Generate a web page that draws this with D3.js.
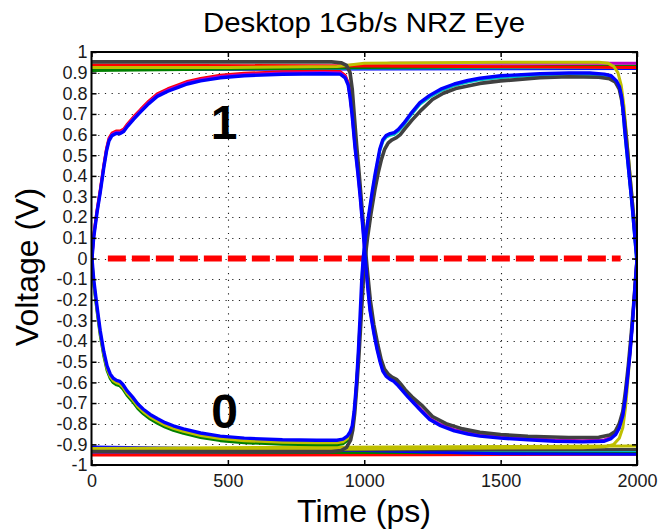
<!DOCTYPE html>
<html>
<head>
<meta charset="utf-8">
<script src="https://cdn.jsdelivr.net/npm/d3@7"></script>
<style>
  body { margin: 0; background: #fff; }
  svg { display: block; }
</style>
</head>
<body>
<svg id="chart" width="661" height="529"></svg>
<script>
// ---- Axis ticks -------------------------------------------------------
const timeTicks = [0, 500, 1000, 1500, 2000];
const voltTicks = [1, 0.9, 0.8, 0.7, 0.6, 0.5, 0.4, 0.3, 0.2, 0.1, 0,
  -0.1, -0.2, -0.3, -0.4, -0.5, -0.6, -0.7, -0.8, -0.9, -1];

// ---- Eye traces: [time (ps), voltage (V)] ------------------------------
// 0 -> 1 at t=0, 1 -> 0 at t=1000, 0 -> 1 at t=2000
const eyeRiseFall = [
  [0,-0.03],[8,0.1],[20,0.22],[32,0.32],[45,0.44],[55,0.52],[64,0.57],[75,0.595],
  [90,0.605],[105,0.605],[118,0.615],[132,0.64],[155,0.675],[180,0.71],[210,0.75],
  [241,0.785],[280,0.81],[320,0.83],[351,0.845],[400,0.86],[472,0.875],[560,0.885],
  [700,0.892],[850,0.895],[912,0.893],[930,0.875],[941,0.84],[948,0.78],[955,0.70],
  [966,0.54],[976,0.42],[985,0.30],[996,0.13],[1003,0.01],[1012,-0.13],[1021,-0.25],
  [1035,-0.36],[1047,-0.44],[1058,-0.50],[1068,-0.545],[1080,-0.57],[1094,-0.585],
  [1108,-0.595],[1120,-0.61],[1140,-0.64],[1160,-0.67],[1178,-0.695],[1210,-0.74],
  [1240,-0.78],[1280,-0.81],[1330,-0.835],[1380,-0.85],[1424,-0.86],[1500,-0.87],
  [1600,-0.878],[1700,-0.885],[1800,-0.888],[1880,-0.885],[1905,-0.872],[1922,-0.852],
  [1935,-0.82],[1948,-0.76],[1957,-0.68],[1966,-0.57],[1975,-0.45],[1983,-0.32],
  [1992,-0.15],[2000,0.0]
];

// 1 -> 0 at t=0, 0 -> 1 at t=1000, 1 -> 0 at t=2000
const eyeFallRise = [
  [0,0.03],[8,-0.1],[20,-0.23],[32,-0.35],[45,-0.45],[57,-0.52],[69,-0.56],[80,-0.58],
  [92,-0.59],[104,-0.595],[115,-0.61],[130,-0.64],[150,-0.67],[170,-0.705],[190,-0.73],
  [215,-0.755],[241,-0.775],[270,-0.795],[300,-0.81],[337,-0.825],[400,-0.845],
  [472,-0.86],[560,-0.87],[700,-0.878],[826,-0.88],[900,-0.88],[922,-0.875],[938,-0.86],
  [948,-0.84],[956,-0.81],[963,-0.74],[968,-0.66],[972,-0.59],[978,-0.46],[984,-0.30],
  [991,-0.10],[996,0.0],[1004,0.1],[1015,0.2],[1030,0.33],[1040,0.41],[1047,0.46],
  [1057,0.53],[1068,0.575],[1080,0.595],[1095,0.605],[1110,0.61],[1125,0.625],
  [1145,0.655],[1170,0.70],[1204,0.755],[1240,0.79],[1280,0.82],[1330,0.845],
  [1380,0.862],[1424,0.873],[1500,0.885],[1644,0.895],[1750,0.898],[1827,0.898],
  [1880,0.893],[1905,0.885],[1925,0.86],[1936,0.83],[1944,0.78],[1950,0.70],
  [1955,0.62],[1964,0.50],[1973,0.38],[1982,0.26],[1991,0.12],[2000,-0.02]
];

// long run of ones, falling at t=1000
const highHoldFall = [
  [0,0.952],[880,0.952],[915,0.948],[935,0.935],[948,0.90],[956,0.82],[963,0.70],
  [972,0.55],[982,0.40],[992,0.24],[1002,0.08],[1010,-0.04],[1022,-0.2],[1035,-0.32],
  [1050,-0.42],[1062,-0.49],[1074,-0.535],[1088,-0.56],[1102,-0.575],[1118,-0.585],
  [1132,-0.605],[1150,-0.635],[1175,-0.67],[1210,-0.71],[1250,-0.765],[1300,-0.80],
  [1360,-0.825],[1424,-0.842],[1500,-0.852],[1600,-0.861],[1750,-0.867],[1860,-0.866],
  [1900,-0.855],[1920,-0.838],[1935,-0.80],[1948,-0.74],[1958,-0.64],[1968,-0.52],
  [1978,-0.38],[1988,-0.22],[1997,-0.06],[2005,0.06]
];

// long run of zeros, rising at t=1000
const lowHoldRise = [
  [0,-0.935],[880,-0.935],[915,-0.93],[935,-0.915],[950,-0.88],[958,-0.83],[965,-0.75],
  [972,-0.63],[980,-0.48],[988,-0.30],[996,-0.12],[1003,0.0],[1012,0.1],[1025,0.22],
  [1040,0.34],[1052,0.42],[1063,0.48],[1075,0.53],[1088,0.56],[1102,0.575],[1118,0.585],
  [1132,0.60],[1150,0.63],[1175,0.67],[1210,0.72],[1250,0.77],[1290,0.80],[1340,0.825],
  [1424,0.848],[1500,0.86],[1644,0.875],[1750,0.88],[1860,0.878],[1900,0.87],
  [1920,0.855],[1935,0.82],[1945,0.76],[1955,0.66],[1964,0.54],[1975,0.38],
  [1985,0.24],[1995,0.08],[2005,-0.06]
];

// ones held across the window, falling at t=2000
const highHoldEnd = [
  [0,0.925],[500,0.925],[900,0.93],[1000,0.945],[1500,0.95],[1860,0.95],[1895,0.945],
  [1915,0.93],[1930,0.90],[1942,0.84],[1952,0.74],[1960,0.62],[1970,0.47],[1980,0.33],
  [1990,0.18],[2000,0.03]
];

// zeros held across the window, rising at t=2000
const lowHoldEnd = [
  [0,-0.93],[1000,-0.922],[1500,-0.918],[1800,-0.916],[1880,-0.912],[1915,-0.9],
  [1935,-0.87],[1948,-0.82],[1958,-0.72],[1966,-0.60],[1975,-0.45],[1985,-0.28],
  [1995,-0.1],[2005,0.06]
];

// steady rails
const highRailBlue    = [[0,0.915],[2000,0.92]];
const highRailCyan    = [[0,0.92],[2000,0.925]];
const highRailGreen   = [[0,0.91],[1000,0.925],[2000,0.932]];
const highRailRed     = [[0,0.937],[1000,0.932],[2000,0.925]];
const highRailMagenta = [[0,0.928],[900,0.932],[1100,0.945],[2000,0.946]];
const lowRailRed      = [[0,-0.952],[1200,-0.95],[2000,-0.948]];
const lowRailMagenta  = [[0,-0.94],[2000,-0.938]];
const lowRailGreen    = [[0,-0.935],[1000,-0.94],[2000,-0.942]];
const lowRailBlue     = [[0,-0.913],[1000,-0.93],[1500,-0.945],[2000,-0.948]];
const lowRailYellow   = [[0,-0.92],[700,-0.915],[2000,-0.908]];
const lowRailCyan     = [[0,-0.925],[2000,-0.93]];
const lowRailGray     = [[0,-0.928],[2000,-0.925]];

// decision threshold and bit annotations
const threshold = [[60, 0], [1940, 0]];
const bitLabels = [
  { text: "1", t: 486, v: 0.58 },
  { text: "0", t: 488, v: -0.82 }
];

// ---- Colours ----------------------------------------------------------
const C = {
  blue: "#0000ff", red: "#ff0000", green: "#008000", yellow: "#bfbf00",
  magenta: "#bf00bf", cyan: "#00bfbf", gray: "#404040"
};

// draw order: rails first, then eye bundles, blue on top
const traces = [
  { pts: highRailBlue, color: C.blue },
  { pts: highRailCyan, color: C.cyan },
  { pts: highRailGreen, color: C.green },
  { pts: highRailMagenta, color: C.magenta },
  { pts: highRailRed, color: C.red },
  { pts: highHoldEnd, color: C.yellow },
  { pts: lowRailRed, color: C.red },
  { pts: lowRailMagenta, color: C.magenta },
  { pts: lowRailGreen, color: C.green },
  { pts: lowRailCyan, color: C.cyan },
  { pts: lowRailBlue, color: C.blue },
  { pts: lowRailGray, color: C.gray },
  { pts: lowRailYellow, color: C.yellow },
  { pts: lowHoldEnd, color: C.yellow },
  { pts: eyeRiseFall, color: C.red, dv: 0.012, span: [0, 960] },
  { pts: eyeRiseFall, color: C.magenta, dv: 0.006 },
  { pts: eyeFallRise, color: C.green, dv: -0.022, span: [0, 990] },
  { pts: eyeFallRise, color: C.yellow, dv: -0.012, span: [0, 990] },
  { pts: eyeFallRise, color: C.cyan, dv: -0.008, span: [990, 2000] },
  { pts: highHoldFall, color: C.gray, w: 3.6 },
  { pts: lowHoldRise, color: C.gray, w: 3.6 },
  { pts: eyeFallRise, color: C.blue, w: 3.4 },
  { pts: eyeRiseFall, color: C.blue, w: 3.4 }
];

// ---- Layout -----------------------------------------------------------
const svg = d3.select("#chart");
const x = d3.scaleLinear().domain([0, 2000]).range([91.5, 637]);
const y = d3.scaleLinear().domain([-1, 1]).range([465, 52]);
const FONT = "'Liberation Sans', Arial, Helvetica, sans-serif";
const fmtV = v => String(+v.toFixed(1));

svg.append("rect").attr("width", 661).attr("height", 529).attr("fill", "#fff");

svg.append("defs").append("clipPath").attr("id", "plot-clip")
  .append("rect")
  .attr("x", x(0)).attr("y", y(1))
  .attr("width", x(2000) - x(0)).attr("height", y(-1) - y(1));

// dotted grid
const grid = svg.append("g")
  .attr("stroke", "#222").attr("stroke-width", 1.1)
  .attr("stroke-dasharray", "1.2,5.5");
grid.selectAll("line.h").data(voltTicks.filter(v => Math.abs(v) < 1)).join("line")
  .attr("class", "h")
  .attr("x1", x(0)).attr("x2", x(2000))
  .attr("y1", d => Math.round(y(d)) + 0.5).attr("y2", d => Math.round(y(d)) + 0.5);
grid.selectAll("line.v").data(timeTicks.filter(t => t > 0 && t < 2000)).join("line")
  .attr("class", "v")
  .attr("y1", y(1)).attr("y2", y(-1))
  .attr("x1", d => Math.round(x(d)) + 0.5).attr("x2", d => Math.round(x(d)) + 0.5);

const plot = svg.append("g").attr("clip-path", "url(#plot-clip)");

// threshold line
plot.append("path")
  .datum(threshold)
  .attr("d", d3.line().x(d => x(d[0])).y(d => y(d[1])))
  .attr("stroke", "#ff0000").attr("stroke-width", 6)
  .attr("stroke-dasharray", "18,6").attr("fill", "none");

// eye traces
traces.forEach(tr => {
  const dv = tr.dv || 0;
  const pts = tr.span ? tr.pts.filter(d => d[0] >= tr.span[0] && d[0] <= tr.span[1]) : tr.pts;
  plot.append("path")
    .datum(pts)
    .attr("d", d3.line().x(d => x(d[0])).y(d => y(d[1] + dv)))
    .attr("fill", "none")
    .attr("stroke", tr.color)
    .attr("stroke-width", tr.w || 3)
    .attr("stroke-linejoin", "round")
    .attr("stroke-linecap", "round");
});

// axes with inward ticks
function styleAxis(g) {
  g.select(".domain").remove();
  g.selectAll(".tick line").attr("stroke", "#000").attr("stroke-width", 1.5);
  g.selectAll(".tick text")
    .attr("font-family", FONT).attr("font-size", 18).attr("fill", "#1a1a1a");
}
svg.append("g").attr("transform", `translate(0,${y(-1)})`)
  .call(d3.axisBottom(x).tickValues(timeTicks).tickSize(-5).tickPadding(9).tickFormat(d3.format("d")))
  .call(styleAxis);
svg.append("g").attr("transform", `translate(0,${y(1)})`)
  .call(d3.axisTop(x).tickValues(timeTicks).tickSize(-5).tickFormat(""))
  .call(styleAxis);
svg.append("g").attr("transform", `translate(${x(0)},0)`)
  .call(d3.axisLeft(y).tickValues(voltTicks).tickSize(-5).tickPadding(4).tickFormat(fmtV))
  .call(styleAxis);
svg.append("g").attr("transform", `translate(${x(2000)},0)`)
  .call(d3.axisRight(y).tickValues(voltTicks).tickSize(-5).tickFormat(""))
  .call(styleAxis);

// frame
svg.append("rect")
  .attr("x", x(0)).attr("y", y(1))
  .attr("width", x(2000) - x(0)).attr("height", y(-1) - y(1))
  .attr("fill", "none").attr("stroke", "#000").attr("stroke-width", 2);

// bit labels
svg.selectAll("text.bit").data(bitLabels).join("text")
  .attr("class", "bit")
  .attr("x", d => x(d.t)).attr("y", d => y(d.v))
  .attr("text-anchor", "middle")
  .attr("font-family", FONT).attr("font-weight", "bold").attr("font-size", 48)
  .attr("fill", "#000")
  .text(d => d.text);

// title and axis labels
svg.append("text")
  .attr("x", 364).attr("y", 32)
  .attr("text-anchor", "middle")
  .attr("font-family", FONT).attr("font-size", 27)
  .attr("textLength", 322).attr("lengthAdjust", "spacingAndGlyphs")
  .text("Desktop 1Gb/s NRZ Eye");

svg.append("text")
  .attr("x", 364).attr("y", 522)
  .attr("text-anchor", "middle")
  .attr("font-family", FONT).attr("font-size", 32)
  .text("Time (ps)");

svg.append("text")
  .attr("transform", "translate(38,267) rotate(-90)")
  .attr("text-anchor", "middle")
  .attr("font-family", FONT).attr("font-size", 32)
  .text("Voltage (V)");
</script>
</body>
</html>
